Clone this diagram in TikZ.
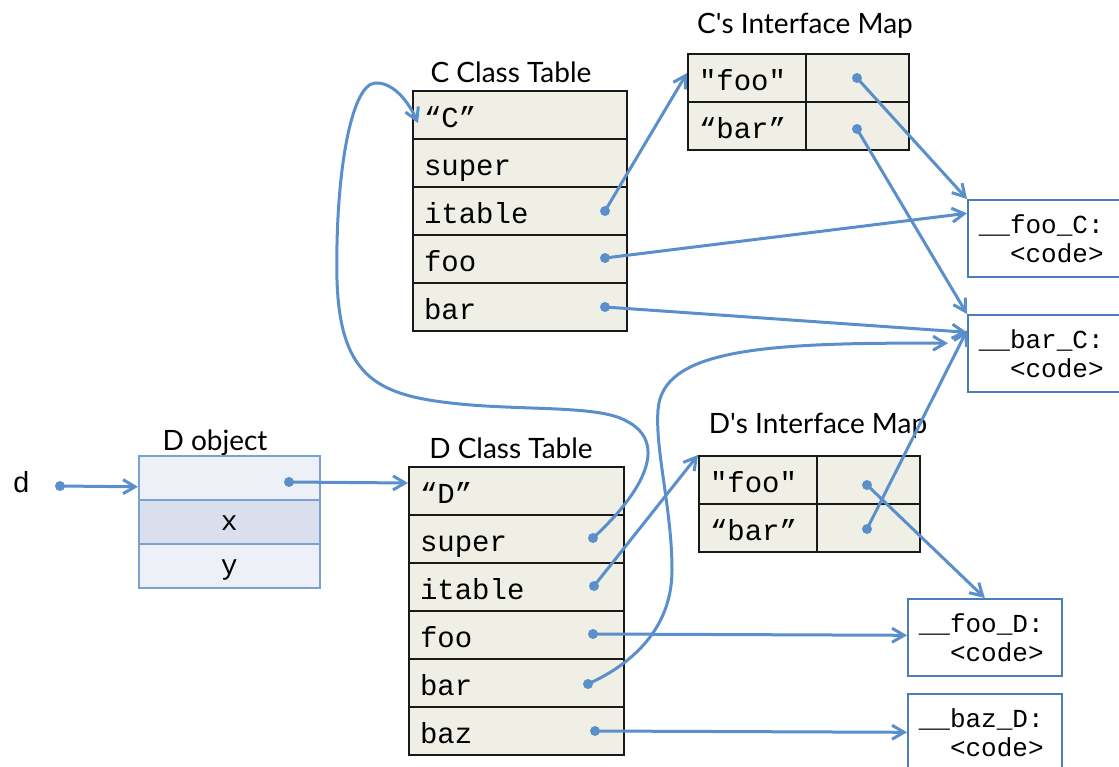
\documentclass[tikz,border=0pt]{standalone}
\usepackage{fontspec}
\setmainfont{Lato}
\setmonofont{Liberation Mono}
\usetikzlibrary{arrows.meta,calc}
\definecolor{lnblue}{HTML}{5A8FCB}
\definecolor{cellfill}{HTML}{EFEFE6}
\definecolor{objfill}{HTML}{EDF0F6}
\definecolor{objdark}{HTML}{D9DFEC}
\definecolor{objline}{HTML}{7BA0D2}
\definecolor{codeline}{HTML}{4A7EBB}
\begin{document}
\begin{tikzpicture}[x=1pt,y=-1pt,
  cell/.style={draw=black!90, line width=2pt, fill=cellfill, anchor=north west,
    minimum height=48pt, inner xsep=11pt, inner ysep=0pt, align=left,
    text height=26pt, text depth=2pt, font=\fontsize{29}{32}\selectfont\ttfamily,
    text width=#1},
  ctab/.style={cell=192pt},
  dtab/.style={cell=193pt},
  cmkey/.style={cell=96pt},
  cmval/.style={cell=81pt},
  objrow/.style={draw=objline, line width=1.6pt, fill=#1, anchor=north west,
    minimum width=181pt, minimum height=44pt, inner sep=0pt,
    text height=20pt, text depth=2pt, font=\fontsize{28}{30}\selectfont\ttfamily},
  codebox/.style={draw=codeline, line width=1.6pt, fill=white, anchor=north west,
    minimum height=77pt, inner xsep=11pt, inner ysep=0pt, align=left,
    font=\fontsize{26}{29}\selectfont\ttfamily, text width=#1},
  title/.style={anchor=base, font=\fontsize{28}{32}\selectfont},
  arr/.style={draw=lnblue, line width=3pt, -{Straight Barb[length=12pt,width=14pt]}},
  dot/.style={fill=lnblue}
]
\useasboundingbox (0,0) rectangle (1119,766);

% ---- titles
\node[title] (tC)  at (511,82)  {C Class Table};
\node[title] (tCM) at (805,33)  {C\textquotesingle s Interface Map};
\node[title] (tDO) at (215,450) {D object};
\node[title] (tD)  at (511,458) {D Class Table};
\node[title] (tDM) at (818,433) {D\textquotesingle s Interface Map};

% ---- d variable
\node[anchor=base west, font=\fontsize{29}{32}\selectfont\ttfamily] (dvar) at (9,492) {d};

% ---- D object
\node[objrow=objfill] (Do1) at (138,455) {};
\node[objrow=objdark] (Do2) at (138,499) {x};
\node[objrow=objfill] (Do3) at (138,543) {y};

% ---- C class table
\node[ctab] (Cname)   at (412,90)  {“C”};
\node[ctab] (Csuper)  at (412,138) {super};
\node[ctab] (Citable) at (412,186) {itable};
\node[ctab] (Cfoo)    at (412,234) {foo};
\node[ctab] (Cbar)    at (412,282) {bar};

% ---- D class table
\node[dtab] (Dname)   at (408,466) {“D”};
\node[dtab] (Dsuper)  at (408,514) {super};
\node[dtab] (Ditable) at (408,562) {itable};
\node[dtab] (Dfoo)    at (408,610) {foo};
\node[dtab] (Dbar)    at (408,658) {bar};
\node[dtab] (Dbaz)    at (408,706) {baz};

% ---- C's interface map
\node[cmkey] (CMfk) at (687,53)  {"foo"};
\node[cmkey] (CMbk) at (687,101) {“bar”};
\node[cmval] (CMfv) at (805,53)  {};
\node[cmval] (CMbv) at (805,101) {};

% ---- D's interface map
\node[cmkey] (DMfk) at (698,455) {"foo"};
\node[cmkey] (DMbk) at (698,503) {“bar”};
\node[cmval] (DMfv) at (816,455) {};
\node[cmval] (DMbv) at (816,503) {};

% ---- code boxes
\node[codebox=138pt] (fooC) at (967,199) {\_\_foo\_C:\\\hphantom{xx}<code>};
\node[codebox=138pt] (barC) at (967,314) {\_\_bar\_C:\\\hphantom{xx}<code>};
\node[codebox=132pt] (fooD) at (907,598) {\_\_foo\_D:\\\hphantom{xx}<code>};
\node[codebox=132pt] (bazD) at (907,693) {\_\_baz\_D:\\\hphantom{xx}<code>};

% ---- pointer origins
\coordinate (pd)   at (60,486);
\coordinate (pDo)  at (289,482);
\coordinate (pCit) at (605,211);
\coordinate (pCf)  at (605,258);
\coordinate (pCb)  at (605,307);
\coordinate (pCMf) at (857,78);
\coordinate (pCMb) at (857,129);
\coordinate (pDs)  at (593,538);
\coordinate (pDi)  at (594,586);
\coordinate (pDf)  at (593,634);
\coordinate (pDb)  at (588,684);
\coordinate (pDz)  at (595,731);
\coordinate (pDMf) at (867,485);
\coordinate (pDMb) at (867,529);

% ---- connectors
\draw[arr] (pd) -- ($(Do1.west)+(0,9)$);
\draw[arr] (pDo) -- ($(Dname.west)+(0,-8)$);
\draw[arr] (pCit) -- ($(CMfk.west)+(0,-5)$);
\draw[arr] (pCf) -- ($(fooC.west)+(0,-25)$);
\draw[arr] (pCb) -- ($(barC.west)+(0,-21)$);
\draw[arr] (pCMf) -- (fooC.north west);
\draw[arr] (pCMb) -- (barC.north west);
\draw[arr] (pDs) .. controls (640,495) and (675,440) .. (620,418)
   .. controls (590,406) and (520,410) .. (460,404)
   .. controls (380,396) and (340,380) .. (337,280)
   .. controls (335,180) and (350,85) .. (375,83)
   .. controls (395,82) and (410,105) .. ($(Cname.west)+(6,8)$);
\draw[arr] (pDi) -- (DMfk.north west);
\draw[arr] (pDf) -- ($(fooD.west)+(0,-2)$);
\draw[arr] (pDb) .. controls (630,665) and (672,630) .. (672,570)
   .. controls (672,510) and (655,450) .. (658,410)
   .. controls (662,350) and (760,342) .. ($(barC.west)+(-19,-10)$);
\draw[arr] (pDz) -- (bazD.west);
\draw[arr] (pDMf) -- (fooD.north);
\draw[arr] (pDMb) -- ($(barC.west)+(0,-23)$);

% ---- dots
\foreach \p in {pd,pDo,pCit,pCf,pCb,pCMf,pCMb,pDs,pDi,pDf,pDb,pDz,pDMf,pDMb}
  \fill[dot] (\p) circle[radius=5pt];
\end{tikzpicture}
\end{document}
